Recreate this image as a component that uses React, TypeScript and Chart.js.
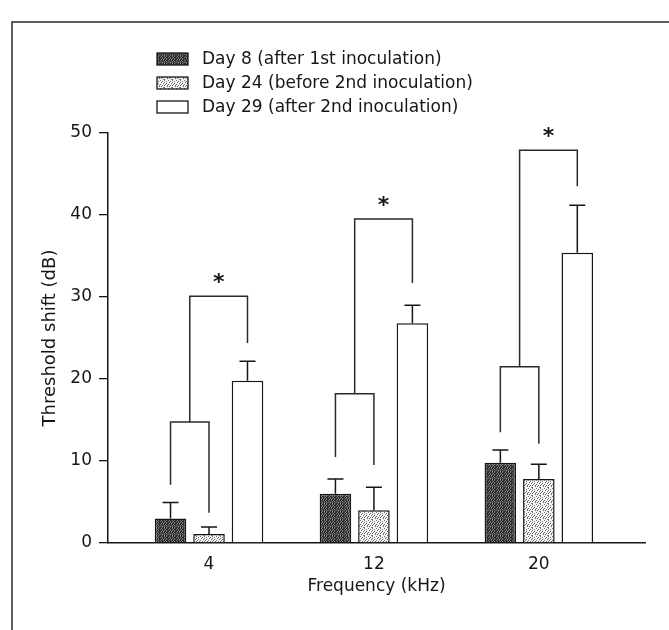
import React, { useEffect, useRef } from "react";
import { Chart, registerables } from "chart.js";

Chart.register(...registerables);

// ---------- data ----------
const frequencies = [4, 12, 20];
const tickLabels = ["4", "12", "20"];
const seriesLabels = [
  "Day 8 (after 1st inoculation)",
  "Day 24 (before 2nd inoculation)",
  "Day 29 (after 2nd inoculation)",
];
const day8 = [3.0, 6.0, 9.8];
const day24 = [1.1, 4.0, 7.8];
const day29 = [19.8, 26.8, 35.4];
const day8Err = [1.95, 1.8, 1.55];
const day24Err = [0.85, 2.8, 1.8];
const day29Err = [2.35, 2.2, 5.8];
// significance brackets (dB)
const lowerBracket = [14.75, 18.2, 21.5];
const lowerLeftEnd = [7.1, 10.5, 13.5];
const lowerRightEnd = [3.7, 9.5, 12.1];
const upperBracket = [30.1, 39.5, 47.9];
const upperRightEnd = [24.4, 31.7, 43.5];
const marks = ["*", "*", "*"];

const values = [day8, day24, day29];
const errors = [day8Err, day24Err, day29Err];

const FONT = "'DejaVu Sans', sans-serif";
const INK = "#161616";

function makePattern(base: string, dot: string, map: string[]) {
  const c = document.createElement("canvas");
  c.width = map[0].length;
  c.height = map.length;
  const g = c.getContext("2d")!;
  g.fillStyle = base;
  g.fillRect(0, 0, c.width, c.height);
  g.fillStyle = dot;
  map.forEach((row, yy) =>
    row.split("").forEach((ch, xx) => {
      if (ch === "#") g.fillRect(xx, yy, 1, 1);
    })
  );
  return g.createPattern(c, "repeat") as CanvasPattern;
}

export default function App() {
  const ref = useRef<HTMLCanvasElement | null>(null);

  useEffect(() => {
    document.body.style.margin = "0";
    const canvas = ref.current!;
    const darkPat = makePattern("#7c7c7c", "#2a2a2a", [
      "#.##.#.#",
      ".#.##.##",
      "##.#.#.#",
      "#.#.##.#",
      ".##.#.##",
      "#.##.#.#",
      ".#.#.##.",
      "##.#.#.#",
    ]);
    const lightPat = makePattern("#f4f4f4", "#707070", [
      "#...#...",
      "..#...#.",
      ".#..#...",
      "...#..#.",
      "#....#..",
      "..#.#..#",
      ".#.....#",
      "...##...",
    ]);
    const fills: (string | CanvasPattern)[] = [darkPat, lightPat, "#ffffff"];

    const overlay = {
      id: "overlay",
      beforeDraw(chart: any) {
        const ctx = chart.ctx;
        ctx.save();
        ctx.fillStyle = "#ffffff";
        ctx.fillRect(0, 0, chart.width, chart.height);
        ctx.strokeStyle = "#2a2a2a";
        ctx.lineWidth = 1.5;
        ctx.beginPath();
        ctx.moveTo(12, chart.height);
        ctx.lineTo(12, 22);
        ctx.lineTo(chart.width, 22);
        ctx.stroke();
        ctx.restore();
      },
      afterDatasetsDraw(chart: any) {
        const y = chart.scales.y;
        const ctx = chart.ctx;
        const metas = [0, 1, 2].map((i) => chart.getDatasetMeta(i));
        ctx.save();
        ctx.strokeStyle = INK;
        ctx.lineWidth = 1.5;
        // error bars
        errors.forEach((errArr, di) => {
          metas[di].data.forEach((bar: any, j: number) => {
            const v = values[di][j];
            const top = y.getPixelForValue(v + errArr[j]);
            const base = y.getPixelForValue(v);
            ctx.beginPath();
            ctx.moveTo(bar.x, base);
            ctx.lineTo(bar.x, top);
            ctx.moveTo(bar.x - 8, top);
            ctx.lineTo(bar.x + 8, top);
            ctx.stroke();
          });
        });
        // brackets
        ctx.strokeStyle = "#2a2a2a";
        frequencies.forEach((_, j) => {
          const x1 = metas[0].data[j].x;
          const x2 = metas[1].data[j].x;
          const x3 = metas[2].data[j].x;
          const xm = (x1 + x2) / 2;
          const yl = y.getPixelForValue(lowerBracket[j]);
          const yu = y.getPixelForValue(upperBracket[j]);
          ctx.beginPath();
          ctx.moveTo(x1, y.getPixelForValue(lowerLeftEnd[j]));
          ctx.lineTo(x1, yl);
          ctx.lineTo(x2, yl);
          ctx.lineTo(x2, y.getPixelForValue(lowerRightEnd[j]));
          ctx.moveTo(xm, yl);
          ctx.lineTo(xm, yu);
          ctx.lineTo(x3, yu);
          ctx.lineTo(x3, y.getPixelForValue(upperRightEnd[j]));
          ctx.stroke();
          // asterisk
          ctx.fillStyle = INK;
          ctx.font = `bold 22px ${FONT}`;
          ctx.textAlign = "center";
          ctx.textBaseline = "alphabetic";
          ctx.fillText(marks[j], (xm + x3) / 2, yu - 20 + 13);
        });
        ctx.restore();
      },
      afterDraw(chart: any) {
        const ctx = chart.ctx;
        ctx.save();
        seriesLabels.forEach((label, i) => {
          const cy = 59 + i * 24;
          ctx.fillStyle = fills[i];
          ctx.fillRect(157, cy - 6, 31, 12);
          ctx.strokeStyle = INK;
          ctx.lineWidth = 1.3;
          ctx.strokeRect(157, cy - 6, 31, 12);
          ctx.fillStyle = INK;
          ctx.font = `17px ${FONT}`;
          ctx.textAlign = "left";
          ctx.textBaseline = "middle";
          ctx.fillText(label, 202, cy + 1);
        });
        ctx.restore();
      },
    };

    const datasets = seriesLabels.map((label, i) => ({
      label,
      data: frequencies.map((f, j) => ({ x: f, y: values[i][j] })),
      backgroundColor: fills[i],
      borderColor: INK,
      borderWidth: 1.5,
      categoryPercentage: 0.7,
      barPercentage: 0.82,
    }));

    const chart = new Chart(canvas, {
      type: "bar",
      data: { datasets } as any,
      plugins: [overlay],
      options: {
        animation: false,
        responsive: false,
        devicePixelRatio: 1,
        layout: { padding: { top: 133, right: 24, left: 0, bottom: 0 } },
        plugins: {
          legend: { display: false },
          tooltip: { enabled: false },
        },
        scales: {
          x: {
            type: "linear",
            offset: false,
            min: -0.9,
            max: 25.15,
            afterBuildTicks: (scale: any) => {
              scale.ticks = frequencies.map((v) => ({ value: v }));
            },
            afterFit: (scale: any) => {
              scale.height = 87;
            },
            ticks: {
              autoSkip: false,
              maxRotation: 0,
              padding: 11,
              color: INK,
              font: { family: FONT, size: 17 },
              callback: (v: any) => {
                const k = frequencies.indexOf(Number(v));
                return k >= 0 ? tickLabels[k] : "";
              },
            },
            grid: { display: false, drawTicks: false, offset: false },
            border: { display: true, color: INK, width: 1.5 },
            title: {
              display: true,
              text: "Frequency (kHz)",
              color: INK,
              font: { family: FONT, size: 17 },
              padding: { top: 0, bottom: 33 },
            },
          },
          y: {
            min: 0,
            max: 50,
            afterFit: (scale: any) => {
              scale.width = 108;
            },
            ticks: {
              stepSize: 10,
              padding: 7,
              color: INK,
              font: { family: FONT, size: 17 },
            },
            grid: {
              drawOnChartArea: false,
              drawTicks: true,
              tickLength: 9,
              color: INK,
              lineWidth: 1.3,
            },
            border: { display: true, color: INK, width: 1.5 },
            title: {
              display: true,
              text: "Threshold shift (dB)",
              color: INK,
              font: { family: FONT, size: 18 },
              padding: { top: 40, bottom: 0 },
            },
          },
        },
      } as any,
    });

    return () => chart.destroy();
  }, []);

  return (
    <div style={{ position: "absolute", left: 0, top: 0, width: 669, height: 630, background: "#fff" }}>
      <canvas ref={ref} width={669} height={630} />
    </div>
  );
}
